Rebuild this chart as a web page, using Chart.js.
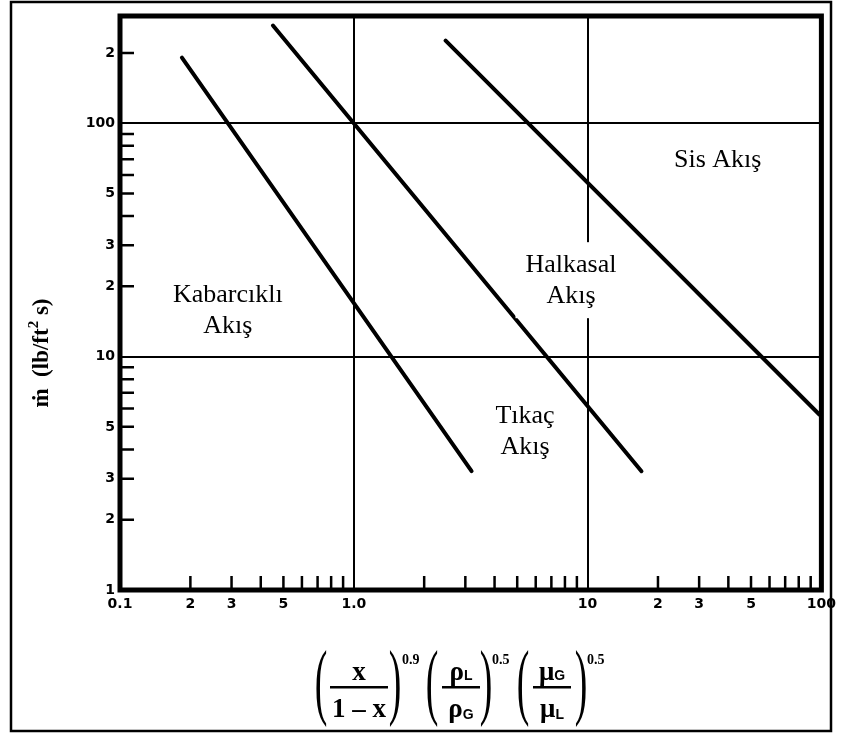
<!DOCTYPE html>
<html>
<head>
<meta charset="utf-8">
<script src="https://cdn.jsdelivr.net/npm/chart.js@4.4.1/dist/chart.umd.min.js"></script>
<style>
  html, body { margin: 0; padding: 0; background: #fff; }
  canvas { display: block; }
</style>
</head>
<body>
<canvas id="flowChart" width="842" height="735"></canvas>
<script>
// Flow regime boundary lines
const bubbleX = [0.184, 3.19];
const bubbleY = [191, 3.23];
const slugX = [0.451, 17.0];
const slugY = [262, 3.23];
const mistX = [2.47, 98];
const mistY = [226, 5.65];

// Axis ticks
const xTicks = [0.1, 0.2, 0.3, 0.4, 0.5, 0.6, 0.7, 0.8, 0.9,
  1, 2, 3, 4, 5, 6, 7, 8, 9,
  10, 20, 30, 40, 50, 60, 70, 80, 90, 100];
const xLabelValues = [0.1, 0.2, 0.3, 0.5, 1, 10, 20, 30, 50, 100];
const xLabelText = ['0.1', '2', '3', '5', '1.0', '10', '2', '3', '5', '100'];
const xGrid = [1, 10];

const yTicks = [1, 2, 3, 4, 5, 6, 7, 8, 9,
  10, 20, 30, 40, 50, 60, 70, 80, 90, 100, 200];
const yLabelValues = [1, 2, 3, 5, 10, 20, 30, 50, 100, 200];
const yLabelText = ['1', '2', '3', '5', '10', '2', '3', '5', '100', '2'];
const yGrid = [10, 100];

// Region names, anchored at (centre, first baseline) in data units
const regionNames = [['Kabarcıklı', 'Akış'], ['Halkasal', 'Akış'], ['Tıkaç', 'Akış'], ['Sis Akış']];
const regionX = [0.289, 8.49, 5.40, 36.0];
const regionY = [17.1, 23.0, 5.19, 64.9];

function findLabel(values, texts, v) {
  const i = values.findIndex(x => Math.abs(x - v) < x * 1e-6);
  return i >= 0 ? texts[i] : '';
}

function toPoints(xs, ys) {
  return xs.map((x, i) => ({ x: x, y: ys[i] }));
}

function lineSet(xs, ys) {
  return {
    data: toPoints(xs, ys),
    borderColor: '#000',
    borderWidth: 4,
    borderCapStyle: 'round',
    pointRadius: 0,
    fill: false
  };
}

// Frame, inward ticks, region names and axis titles
const decorPlugin = {
  id: 'decor',
  beforeDraw(chart) {
    const ctx = chart.ctx;
    ctx.save();
    ctx.fillStyle = '#fff';
    ctx.fillRect(0, 0, chart.width, chart.height);
    ctx.strokeStyle = '#000';
    ctx.lineWidth = 2.5;
    ctx.strokeRect(11, 2, 820, 729);
    ctx.restore();
  },
  afterDatasetsDraw(chart) {
    const ctx = chart.ctx;
    const xs = chart.scales.x;
    const ys = chart.scales.y;
    const area = chart.chartArea;
    ctx.save();

    // region names on white boxes
    ctx.font = '26px "Liberation Serif"';
    ctx.textAlign = 'center';
    ctx.textBaseline = 'alphabetic';
    regionNames.forEach((lines, i) => {
      const cx = xs.getPixelForValue(regionX[i]);
      const by = ys.getPixelForValue(regionY[i]);
      const w = Math.max(...lines.map(l => ctx.measureText(l).width));
      ctx.fillStyle = '#fff';
      ctx.fillRect(cx - w / 2 - 10, by - 30, w + 20, 31 * lines.length + 14);
      ctx.fillStyle = '#000';
      lines.forEach((l, j) => ctx.fillText(l, cx, by + j * 31));
    });

    // inward minor ticks
    ctx.strokeStyle = '#000';
    ctx.lineWidth = 2.5;
    ctx.beginPath();
    xTicks.forEach(v => {
      if (xGrid.includes(v) || v === xs.min || v === xs.max) return;
      const px = xs.getPixelForValue(v);
      ctx.moveTo(px, area.bottom);
      ctx.lineTo(px, area.bottom - 14);
    });
    yTicks.forEach(v => {
      if (yGrid.includes(v) || v === ys.min) return;
      const py = ys.getPixelForValue(v);
      ctx.moveTo(area.left, py);
      ctx.lineTo(area.left + 14, py);
    });
    ctx.stroke();

    // plot frame
    ctx.lineWidth = 5;
    ctx.strokeRect(area.left, area.top, area.right - area.left, area.bottom - area.top);

    drawYTitle(ctx);
    drawXTitle(ctx);
    ctx.restore();
  }
};

function drawYTitle(ctx) {
  ctx.save();
  ctx.translate(39, 353);
  ctx.rotate(-Math.PI / 2);
  ctx.fillStyle = '#000';
  ctx.textBaseline = 'alphabetic';
  ctx.textAlign = 'left';
  const big = 'bold 23px "Liberation Serif"';
  const small = 'bold 15px "Liberation Serif"';
  const parts = [['ṁ  (lb/ft', big, 0], ['2', small, -10], [' s)', big, 0]];
  let total = 0;
  parts.forEach(p => { ctx.font = p[1]; total += ctx.measureText(p[0]).width; });
  let x = -total / 2;
  parts.forEach(p => {
    ctx.font = p[1];
    ctx.fillText(p[0], x, 9 + p[2]);
    x += ctx.measureText(p[0]).width;
  });
  ctx.restore();
}

function paren(ctx, ch, x) {
  ctx.save();
  ctx.font = '84px "Liberation Serif"';
  ctx.translate(x, 709);
  ctx.scale(0.45, 1);
  ctx.textAlign = 'center';
  ctx.fillText(ch, 0, 0);
  ctx.restore();
}

function fraction(ctx, cx, w, num, den) {
  ctx.fillRect(cx - w / 2, 686, w, 2.5);
  [[num, 680], [den, 717]].forEach(([parts, base]) => {
    let total = 0;
    parts.forEach(p => { ctx.font = p[1]; total += ctx.measureText(p[0]).width; });
    let x = cx - total / 2;
    parts.forEach(p => {
      ctx.font = p[1];
      ctx.fillText(p[0], x, base + p[2]);
      x += ctx.measureText(p[0]).width;
    });
  });
}

function drawXTitle(ctx) {
  ctx.save();
  ctx.fillStyle = '#000';
  ctx.textBaseline = 'alphabetic';
  ctx.textAlign = 'left';
  const f = 'bold 27px "Liberation Serif"';
  const sub = 'bold 14px "Liberation Sans"';
  const sup = 'bold 14px "Liberation Serif"';

  paren(ctx, '(', 321);
  fraction(ctx, 359, 58, [['x', f, 0]], [['1 – x', f, 0]]);
  paren(ctx, ')', 395);
  ctx.font = sup; ctx.fillText('0.9', 402, 664);

  paren(ctx, '(', 432);
  fraction(ctx, 461, 38, [['ρ', f, 0], ['L', sub, 0]], [['ρ', f, 0], ['G', sub, 2]]);
  paren(ctx, ')', 486);
  ctx.font = sup; ctx.fillText('0.5', 492, 664);

  paren(ctx, '(', 523);
  fraction(ctx, 552, 38, [['μ', f, 0], ['G', sub, 0]], [['μ', f, 0], ['L', sub, 2]]);
  paren(ctx, ')', 581);
  ctx.font = sup; ctx.fillText('0.5', 587, 664);
  ctx.restore();
}

const tickFont = { family: 'DejaVu Sans', weight: 'bold', size: 14 };

new Chart(document.getElementById('flowChart'), {
  type: 'line',
  data: {
    datasets: [lineSet(bubbleX, bubbleY), lineSet(slugX, slugY), lineSet(mistX, mistY)]
  },
  options: {
    responsive: false,
    devicePixelRatio: 1,
    animation: false,
    layout: { padding: { top: 16, right: 19, left: 0, bottom: 0 } },
    plugins: { legend: { display: false }, tooltip: { enabled: false } },
    scales: {
      x: {
        type: 'logarithmic',
        min: 0.1,
        max: 100,
        afterBuildTicks: scale => { scale.ticks = xTicks.map(v => ({ value: v })); },
        afterFit: scale => { scale.height = 145; },
        grid: {
          drawTicks: false,
          lineWidth: 2,
          color: c => (c.tick && xGrid.includes(c.tick.value)) ? '#000' : 'rgba(0,0,0,0)'
        },
        border: { display: false },
        ticks: {
          autoSkip: false,
          maxRotation: 0,
          padding: 6,
          color: '#000',
          font: tickFont,
          callback: v => findLabel(xLabelValues, xLabelText, v)
        }
      },
      y: {
        type: 'logarithmic',
        min: 1,
        max: 288,
        afterBuildTicks: scale => { scale.ticks = yTicks.map(v => ({ value: v })); },
        afterFit: scale => { scale.width = 120; },
        grid: {
          drawTicks: false,
          lineWidth: 2,
          color: c => (c.tick && yGrid.includes(c.tick.value)) ? '#000' : 'rgba(0,0,0,0)'
        },
        border: { display: false },
        ticks: {
          autoSkip: false,
          padding: 5,
          color: '#000',
          font: tickFont,
          callback: v => findLabel(yLabelValues, yLabelText, v)
        }
      }
    }
  },
  plugins: [decorPlugin]
});
</script>
</body>
</html>
